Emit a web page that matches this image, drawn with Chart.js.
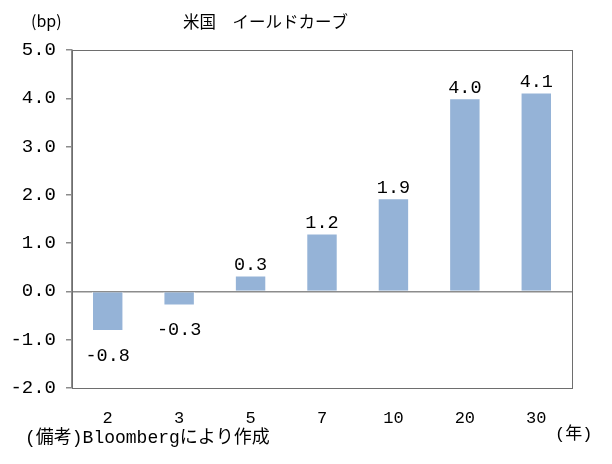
<!DOCTYPE html>
<html>
<head>
<meta charset="utf-8">
<script src="https://cdn.jsdelivr.net/npm/chart.js@4"></script>
<style>
html,body{margin:0;padding:0;background:#fff;}
canvas{display:block;}
</style>
</head>
<body>
<canvas id="c" width="612" height="464"></canvas>
<script>
const categories = ["2", "3", "5", "7", "10", "20", "30"];
const values = [-0.82, -0.29, 0.33, 1.2, 1.93, 4.0, 4.12];
const valueLabels = ["-0.8", "-0.3", "0.3", "1.2", "1.9", "4.0", "4.1"];
const yTicks = [-2, -1, 0, 1, 2, 3, 4, 5];
const titleText = "米国\u3000イールドカーブ";
const unitY = "(bp)";
const unitX = "(年)";
const noteText = "(備考)Bloombergにより作成";

const NUM_FONT = '"Liberation Mono", "DejaVu Sans Mono", monospace';
const MIX_FONT = '"Liberation Mono", "Noto Sans CJK JP", monospace';
const JP_FONT = '"Noto Sans CJK JP", "Noto Sans", sans-serif';

const textPlugin = {
  id: 'texts',
  afterDraw(chart) {
    const ctx = chart.ctx;
    const a = chart.chartArea;
    ctx.save();
    // frame
    ctx.strokeStyle = '#6e6e6e';
    ctx.lineWidth = 1;
    ctx.strokeRect(Math.round(a.left) + 0.5, Math.round(a.top) + 0.5, Math.round(a.right - a.left), Math.round(a.bottom - a.top));
    ctx.fillStyle = '#000';
    ctx.textBaseline = 'middle';
    ctx.textAlign = 'left';
    ctx.font = '16.5px ' + JP_FONT;
    ctx.fillText(titleText, 183, 22);
    ctx.font = '16px ' + JP_FONT;
    ctx.fillText(unitY, 31, 21);
    ctx.font = '18px ' + MIX_FONT;
    ctx.fillText(noteText, 25, 438);
    ctx.font = '17px ' + MIX_FONT;
    ctx.fillText(unitX, 555, 434);
    // data labels
    ctx.font = '18.5px ' + NUM_FONT;
    ctx.textAlign = 'center';
    ctx.textBaseline = 'alphabetic';
    const meta = chart.getDatasetMeta(0);
    meta.data.forEach((bar, i) => {
      const v = values[i];
      const lbl = valueLabels[i];
      if (v >= 0) {
        ctx.fillText(lbl, bar.x, bar.y - 5);
      } else {
        ctx.fillText(lbl, bar.x, bar.y + 30);
      }
    });
    ctx.restore();
  }
};

new Chart(document.getElementById('c'), {
  type: 'bar',
  data: {
    labels: categories,
    datasets: [{
      data: values,
      backgroundColor: '#95b3d7',
      borderColor: '#ffffff',
      borderWidth: 1,
      barPercentage: 0.44,
      categoryPercentage: 1.0
    }]
  },
  options: {
    responsive: false,
    animation: false,
    devicePixelRatio: 1,
    layout: { padding: { top: 50, right: 40, left: 0, bottom: 0 } },
    plugins: { legend: { display: false }, tooltip: { enabled: false }, title: { display: false } },
    scales: {
      x: {
        grid: { display: false },
        border: { display: false },
        ticks: { color: '#000', font: { family: NUM_FONT, size: 17 }, padding: 12, maxRotation: 0 },
        afterFit(s) { s.height = 76; }
      },
      y: {
        min: -2, max: 5,
        afterBuildTicks(s) { s.ticks = yTicks.map(v => ({ value: v })); },
        grid: {
          drawOnChartArea: true,
          drawTicks: true,
          tickLength: 6,
          color: ctx => (ctx.tick && ctx.tick.value === 0) ? '#8c8c8c' : 'rgba(0,0,0,0)',
          tickColor: '#8c8c8c',
          lineWidth: 1.5
        },
        border: { display: true, color: '#8c8c8c', width: 1.5 },
        ticks: {
          color: '#000',
          font: { family: NUM_FONT, size: 19 },
          padding: 10,
          callback: v => Number(v).toFixed(1)
        },
        afterFit(s) { s.width = 72; }
      }
    }
  },
  plugins: [textPlugin]
});
</script>
</body>
</html>
